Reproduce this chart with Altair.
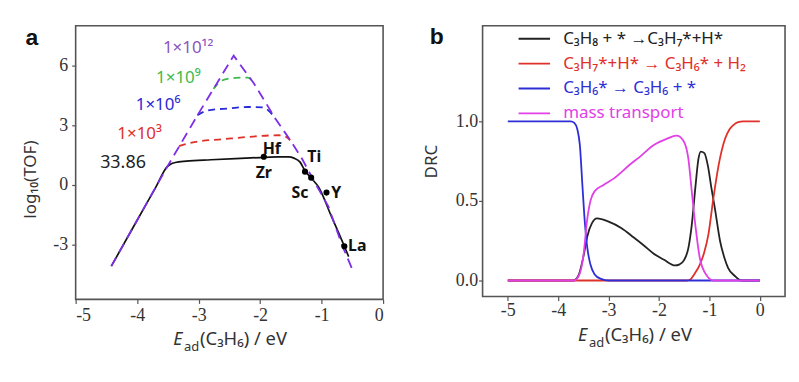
import altair as alt
import pandas as pd

# ---------------- Panel a: volcano plot ----------------
black_x = [-4.42, -4.0, -3.7, -3.51, -3.45, -3.38, -3.2, -2.8, -2.4, -2.0, -1.7, -1.54, -1.45, -1.35, -1.27, -1.17, -1.05, -0.84, -0.63, -0.56]
black_y = [-4.08, -1.77, -0.13, 0.92, 1.06, 1.13, 1.2, 1.27, 1.33, 1.38, 1.41, 1.41, 1.35, 1.15, 0.72, 0.35, -0.1, -1.58, -3.08, -3.6]
red_x = [-3.32, -3.05, -2.6, -2.18, -1.7, -1.6, -1.51]
red_y = [1.95, 2.17, 2.3, 2.42, 2.5, 2.45, 2.25]
blue_x = [-3.02, -2.85, -2.5, -2.2, -1.95, -1.85, -1.75]
blue_y = [3.5, 3.75, 3.85, 3.92, 3.9, 3.7, 3.33]
green_x = [-2.76, -2.62, -2.4, -2.2, -2.1]
green_y = [4.83, 5.25, 5.38, 5.4, 5.12]
purple_x = [-4.42, -3.51, -3.0, -2.43, -2.1, -1.75, -1.51, -1.32, -1.19, -1.05, -0.89, -0.66, -0.51]
purple_y = [-4.08, 0.92, 3.6, 6.5, 5.1, 3.33, 2.25, 1.33, 0.58, -0.2, -1.08, -3.08, -4.17]

metal_x = [-1.94, -1.27, -1.17, -0.92, -0.63]
metal_y = [1.42, 0.67, 0.37, -0.38, -3.08]

elem_names = ["Hf", "Zr", "Ti", "Sc", "Y", "La"]
elem_x = [-1.81, -1.94, -1.12, -1.35, -0.76, -0.42]
elem_y = [1.83, 0.58, 1.39, -0.39, -0.41, -3.08]

tof_labels = ["1×10¹²", "1×10⁹", "1×10⁶", "1×10³"]
tof_x = [-3.17, -3.33, -3.66, -3.96]
tof_y = [6.9, 5.4, 4.0, 2.55]
tof_colors = ["#8a55c0", "#3dbb4a", "#2a2ad8", "#e0302a"]

base_label = ["33.86"]
base_x = [-4.23]
base_y = [1.08]

# ---------------- Panel b: DRC ----------------
series_names = ["C₃H₈ + * →C₃H₇*+H*", "C₃H₇*+H* → C₃H₆* + H₂", "C₃H₆* → C₃H₆ + *", "mass transport"]
series_colors = ["#222222", "#e0302a", "#2e2ed6", "#e040e6"]

drc_black_x = [-5, -3.7, -3.6, -3.5, -3.42, -3.33, -3.23, -3.0, -2.75, -2.5, -2.3, -2.11, -1.9, -1.68, -1.6, -1.5, -1.42, -1.35, -1.28, -1.22, -1.17, -1.1, -1.03, -0.96, -0.89, -0.79, -0.7, -0.63, -0.5, -0.36, 0]
drc_black_y = [0, 0, 0.03, 0.15, 0.28, 0.36, 0.39, 0.37, 0.33, 0.27, 0.22, 0.17, 0.13, 0.095, 0.1, 0.13, 0.2, 0.35, 0.58, 0.76, 0.81, 0.8, 0.72, 0.58, 0.45, 0.25, 0.14, 0.08, 0.03, 0, 0]
drc_red_x = [-5, -1.45, -1.38, -1.3, -1.19, -1.1, -1.02, -0.92, -0.82, -0.69, -0.6, -0.53, -0.43, -0.33, 0]
drc_red_y = [0, 0, 0.006, 0.04, 0.1, 0.18, 0.29, 0.52, 0.72, 0.89, 0.95, 0.975, 0.995, 1.0, 1.0]
drc_blue_x = [-5, -3.75, -3.68, -3.62, -3.57, -3.52, -3.47, -3.42, -3.36, -3.28, -3.15, -3.0, 0]
drc_blue_y = [1, 1, 0.99, 0.95, 0.85, 0.6, 0.36, 0.2, 0.1, 0.04, 0.01, 0, 0]
drc_mag_x = [-5, -3.69, -3.59, -3.49, -3.43, -3.36, -3.28, -3.1, -2.9, -2.57, -2.37, -2.11, -1.85, -1.65, -1.52, -1.42, -1.35, -1.28, -1.19, -1.05, -0.92, 0]
drc_mag_y = [0, 0, 0.03, 0.18, 0.37, 0.5, 0.56, 0.6, 0.64, 0.73, 0.78, 0.85, 0.89, 0.91, 0.88, 0.77, 0.56, 0.35, 0.14, 0.03, 0, 0]

x_ticks = [-5, -4, -3, -2, -1, 0]
a_y_ticks = [-3, 0, 3, 6]
b_y_ticks = [0.0, 0.5, 1.0]

SANS = "Noto Sans"
SERIF = "Liberation Serif, Times New Roman, serif"

AW, AH = 309, 275
BW, BH = 304, 272

ax_a = alt.Scale(domain=[-5, 0], nice=False, zero=False)
ay_a = alt.Scale(domain=[-5.75, 8], nice=False, zero=False)
xaxis_a = alt.Axis(values=x_ticks, title=None, labelExpr="'' + datum.value", labelPadding=3)
yaxis_a = alt.Axis(values=a_y_ticks, title="log₁₀(TOF)", labelExpr="'' + datum.value",
                   labelPadding=4, titleX=-45, titleY=154, titleBaseline="middle", titleAngle=270)


def line_df(xs, ys):
    return pd.DataFrame({"x": xs, "y": ys, "i": list(range(len(xs)))})


def a_line(xs, ys, color, dash=None, width=1.8, interp="monotone"):
    kw = dict(color=color, strokeWidth=width, interpolate=interp, clip=False)
    if dash:
        kw["strokeDash"] = dash
    return alt.Chart(line_df(xs, ys)).mark_line(**kw).encode(
        x=alt.X("x:Q", scale=ax_a, axis=xaxis_a),
        y=alt.Y("y:Q", scale=ay_a, axis=yaxis_a),
        order="i:Q",
    )


a_black = a_line(black_x, black_y, "#111111", width=1.7)
a_red = a_line(red_x, red_y, "#e0302a", dash=[7, 5])
a_blue = a_line(blue_x, blue_y, "#2a2ad8", dash=[7, 5])
a_green = a_line(green_x, green_y, "#3dbb4a", dash=[7, 5])
a_purple = a_line(purple_x, purple_y, "#7d2ee6", dash=[10, 6], interp="linear")

a_pts = alt.Chart(pd.DataFrame({"x": metal_x, "y": metal_y})).mark_circle(size=38, color="#000000", opacity=1).encode(
    x=alt.X("x:Q", scale=ax_a), y=alt.Y("y:Q", scale=ay_a))

a_elem = alt.Chart(pd.DataFrame({"x": elem_x, "y": elem_y, "t": elem_names})).mark_text(
    font=SANS, fontSize=16, fontWeight="bold", color="#111111", align="center", baseline="middle").encode(
    x=alt.X("x:Q", scale=ax_a), y=alt.Y("y:Q", scale=ay_a), text="t:N")

a_tof = alt.Chart(pd.DataFrame({"x": tof_x, "y": tof_y, "t": tof_labels, "c": tof_colors})).mark_text(
    font=SANS, fontSize=17, align="center", baseline="middle").encode(
    x=alt.X("x:Q", scale=ax_a), y=alt.Y("y:Q", scale=ay_a), text="t:N",
    color=alt.Color("c:N", scale=None))

a_base = alt.Chart(pd.DataFrame({"x": base_x, "y": base_y, "t": base_label})).mark_text(
    font=SANS, fontSize=18, align="center", baseline="middle", color="#222222").encode(
    x=alt.X("x:Q", scale=ax_a), y=alt.Y("y:Q", scale=ay_a), text="t:N")


def panel_letter(letter, px, py):
    return alt.Chart(pd.DataFrame({"t": [letter]})).mark_text(
        font="Liberation Sans", fontSize=23, fontWeight="bold", color="#111111", align="center", baseline="middle").encode(
        x=alt.value(px), y=alt.value(py), text="t:N")


def x_title(ex, ey):
    e = alt.Chart(pd.DataFrame({"t": ["E"]})).mark_text(
        font=SANS, fontSize=18, fontStyle="italic", color="#333333", align="left", baseline="alphabetic").encode(
        x=alt.value(ex), y=alt.value(ey), text="t:N")
    s = alt.Chart(pd.DataFrame({"t": ["ad"]})).mark_text(
        font=SANS, fontSize=13, color="#333333", align="left", baseline="alphabetic").encode(
        x=alt.value(ex + 11), y=alt.value(ey + 6), text="t:N")
    r = alt.Chart(pd.DataFrame({"t": ["(C₃H₆) / eV"]})).mark_text(
        font=SANS, fontSize=18.5, color="#333333", align="left", baseline="alphabetic").encode(
        x=alt.value(ex + 27), y=alt.value(ey), text="t:N")
    return [e, s, r]


panel_a = alt.layer(
    a_black, a_red, a_blue, a_green, a_purple, a_pts, a_elem, a_tof, a_base,
    panel_letter("a", -44, 12), *x_title(98, AH + 46)
).properties(width=AW, height=AH)

# ---------------- Panel b ----------------
bx = alt.Scale(domain=[-5.5, 0.5], nice=False, zero=False)
by = alt.Scale(domain=[-0.1, 1.6], nice=False, zero=False)
xaxis_b = alt.Axis(values=x_ticks, title=None, labelExpr="'' + datum.value", labelPadding=1)
yaxis_b = alt.Axis(values=b_y_ticks, title="DRC", format=".1f", labelPadding=1,
                   titleX=-51, titleY=BH / 2, titleBaseline="middle", titleAngle=270)

label_expr = " : ".join(f"datum.value === '{n}' ? '{c}'" for n, c in zip(series_names, series_colors)) + " : '#222222'"

legend_b = alt.Legend(
    orient="none", legendX=444, legendY=-4, title=None, symbolType="stroke", symbolSize=1000,
    symbolStrokeWidth=1.8, labelFont=SANS, labelFontSize=17, labelOffset=12, rowPadding=-7,
    padding=0, labelLimit=400, labelColor=alt.ExprRef(expr=label_expr))

color_b = alt.Color("s:N", scale=alt.Scale(domain=series_names, range=series_colors), legend=legend_b)


def b_line(xs, ys, name):
    df = pd.DataFrame({"x": xs, "y": ys, "s": [name] * len(xs), "i": list(range(len(xs)))})
    return alt.Chart(df).mark_line(strokeWidth=1.8, interpolate="monotone").encode(
        x=alt.X("x:Q", scale=bx, axis=xaxis_b),
        y=alt.Y("y:Q", scale=by, axis=yaxis_b),
        color=color_b,
        order="i:Q",
    )


panel_b = alt.layer(
    b_line(drc_black_x, drc_black_y, series_names[0]),
    b_line(drc_red_x, drc_red_y, series_names[1]),
    b_line(drc_blue_x, drc_blue_y, series_names[2]),
    b_line(drc_mag_x, drc_mag_y, series_names[3]),
    panel_letter("b", -46, 11), *x_title(96, BH + 45)
).properties(width=BW, height=BH)

chart = alt.hconcat(panel_a, panel_b, spacing=37).properties(
    padding={"left": 13, "top": 13, "right": 5, "bottom": 5}
).configure_view(stroke="#555555", strokeWidth=1.6).configure_axis(
    domain=False, grid=False, ticks=True, tickColor="#555555", tickSize=4, tickWidth=1.2,
    labelFont=SERIF, labelFontSize=18, labelColor="#333333",
    titleFont=SANS, titleFontSize=17, titleFontWeight="normal", titleColor="#333333"
)

chart.save("out.html", embed_options={"renderer": "svg", "actions": False})
